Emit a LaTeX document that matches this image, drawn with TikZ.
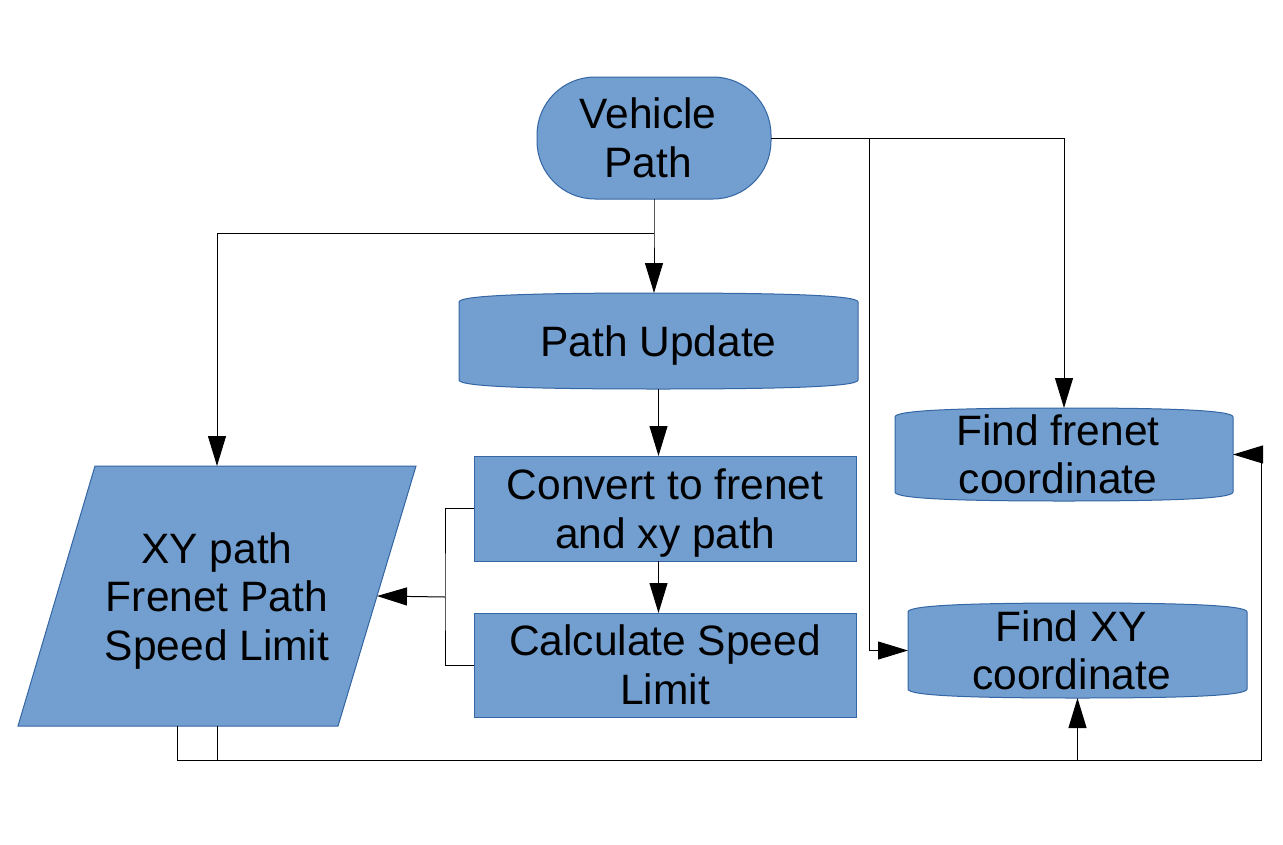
\documentclass[tikz,border=0pt]{standalone}
\usepackage{fontspec}
\setmainfont{Liberation Sans}
\usetikzlibrary{arrows.meta,calc,backgrounds}
\definecolor{boxfill}{HTML}{729FCF}
\definecolor{boxline}{HTML}{3465A4}
\tikzset{
  shp/.style={fill=boxfill,draw=boxline,line width=1pt},
  holder/.style={draw=none,inner sep=0pt,outer sep=0pt},
  txt/.style={draw=none,inner sep=0pt,outer sep=0pt,align=center,
    font=\fontsize{42.5}{48.5}\selectfont},
  conn/.style={draw=black,line width=1pt},
  arr/.style={conn,-{Triangle[length=30pt,width=18pt]}},
}
\newcommand\bowbox[1]{%
  \path[shp] ($(#1.north west)+(0,9)$) .. controls ($(#1.north west)+(0,2)$) and ($(#1.north west)!0.2!(#1.north east)$) .. (#1.north)
   .. controls ($(#1.north west)!0.8!(#1.north east)$) and ($(#1.north east)+(0,2)$) .. ($(#1.north east)+(0,9)$)
   -- ($(#1.south east)+(0,-9)$) .. controls ($(#1.south east)+(0,-2)$) and ($(#1.south west)!0.8!(#1.south east)$) .. (#1.south)
   .. controls ($(#1.south west)!0.2!(#1.south east)$) and ($(#1.south west)+(0,-2)$) .. ($(#1.south west)+(0,-9)$) -- cycle;}
\begin{document}
\begin{tikzpicture}[x=1pt,y=-1pt]
\useasboundingbox (0,0) rectangle (1283,844);
% shape holders
\node[holder,shp,rounded corners=58pt,minimum width=234,minimum height=122] (vp) at (654,138) {};
\node[holder,minimum width=399,minimum height=96] (pu) at (658.5,341) {};
\node[holder,shp,minimum width=382,minimum height=105] (cv) at (665,508.5) {};
\node[holder,shp,minimum width=382,minimum height=104] (cs) at (665,665) {};
\node[holder,minimum width=398,minimum height=260] (par) at (217,596) {};
\node[holder,minimum width=338,minimum height=93] (ff) at (1064,454.5) {};
\node[holder,minimum width=339,minimum height=95] (fx) at (1077.5,650.5) {};
% shapes
\coordinate (pTL) at (95,466);
\coordinate (pTR) at (416,466);
\coordinate (pBR) at (338,726);
\coordinate (pBL) at (18,726);
\coordinate (pR) at ($(pTR)!0.5!(pBR)$);
\begin{scope}[on background layer]
  \bowbox{pu}
  \bowbox{ff}
  \bowbox{fx}
  \path[shp] (pTL) -- (pTR) -- (pBR) -- (pBL) -- cycle;
\end{scope}
% texts
\node[txt] (vpt) at ($(vp.center)+(-6,0)$) {Vehicle\\Path};
\node[txt] (put) at ($(pu.center)+(0,4.5)$) {Path Update};
\node[txt] (cvt) at ($(cv.center)+(0,4.5)$) {Convert to frenet\\and xy path};
\node[txt] (cst) at ($(cs.center)+(0,0)$) {Calculate Speed\\Limit};
\node[txt] (part) at ($(par.center)+(0,5)$) {XY path\\Frenet Path\\Speed Limit};
\node[txt] (fft) at ($(ff.center)+(-6,0)$) {Find frenet\\coordinate};
\node[txt] (fxt) at ($(fx.center)+(-6,0)$) {Find XY\\coordinate};
% junctions
\coordinate (j1) at (654,233);
\coordinate (j2) at (869,138);
\coordinate (j3) at (445,597);
\coordinate (pb1) at (177,726);
\coordinate (j4) at (1261,760);
% connectors
\draw[arr] (vp.south) -- (j1) -- (j1 |- pu.north);
\draw[arr] (j1) -| (par.north);
\draw[arr] (vp.east) -| (ff.north);
\draw[arr] (j2) |- (fx.west);
\draw[arr] (pu.south) -- (pu.south |- cv.north);
\draw[arr] (cv.south -| pu.south) -- (cs.north -| pu.south);
\draw[conn] (cv.west) -| (j3) |- (cs.west);
\draw[arr] (j3) -- (pR);
\draw[arr] (pb1) -- ++(0,34) -| (fx.south);
\draw[arr] (par.south) |- (j4) |- (ff.east);
\end{tikzpicture}
\end{document}
